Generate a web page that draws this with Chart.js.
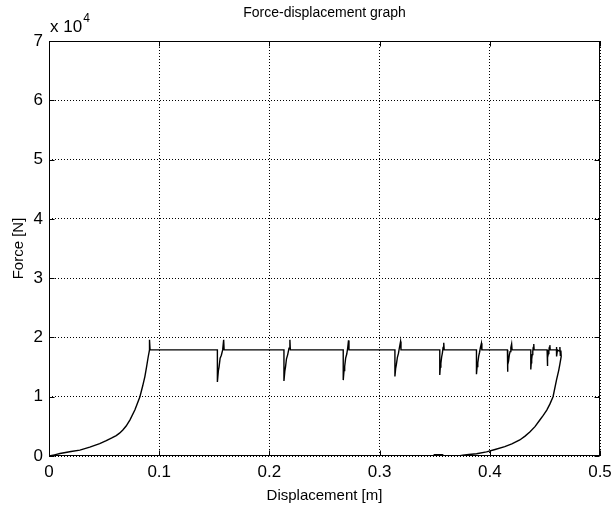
<!DOCTYPE html>
<html>
<head>
<meta charset="utf-8">
<script src="https://cdn.jsdelivr.net/npm/chart.js@4"></script>
<style>
  html, body { margin: 0; padding: 0; background: #fff; }
  #wrap { width: 613px; height: 506px; }
</style>
</head>
<body>
<div id="wrap"><canvas id="forceChart" width="613" height="506"></canvas></div>
<script>
// Displacement [m] and force [N] along the recorded path
// loading branch up to the first yield
const loadX = [0, 0.005, 0.010, 0.020, 0.028, 0.037, 0.046, 0.052, 0.057, 0.061, 0.064, 0.067, 0.070, 0.0735, 0.078, 0.0825, 0.085, 0.087, 0.0885, 0.090, 0.0912, 0.0912, 0.0917];
const loadF = [0, 200, 420, 750, 1000, 1500, 2100, 2600, 3050, 3450, 3850, 4400, 5050, 6100, 7800, 10000, 11800, 13400, 15000, 16700, 17900, 19600, 17900];

// plateau at ~1.79e4 N with the load drops
const plateauX = [
  0.1528, 0.1528, 0.1537, 0.1543, 0.1553, 0.1564, 0.1576, 0.1585, 0.1589,
  0.2132, 0.2132, 0.2140, 0.2146, 0.2155, 0.2166, 0.2178, 0.2186, 0.2190,
  0.2670, 0.2670, 0.2677, 0.2683, 0.2692, 0.2702, 0.2711, 0.2718, 0.2722,
  0.3139, 0.3139, 0.3146, 0.3152, 0.3161, 0.3171, 0.3180, 0.3190, 0.3194,
  0.3546, 0.3546, 0.3551, 0.3556, 0.3563, 0.3570, 0.3576, 0.3582, 0.3586,
  0.3879, 0.3879, 0.3885, 0.3891, 0.3899, 0.3907, 0.3915, 0.3924, 0.3928,
  0.4160, 0.4160, 0.4165, 0.4170, 0.4177, 0.4184, 0.4191, 0.4198, 0.4202,
  0.4372, 0.4372, 0.4376, 0.4380, 0.4385, 0.4390, 0.4394, 0.4399, 0.4402,
  0.4520, 0.4520, 0.4524, 0.4528, 0.4532, 0.4536, 0.4540, 0.4545, 0.4548,
  0.4605, 0.4605, 0.4607, 0.4614, 0.4630, 0.4636, 0.4640, 0.4645, 0.4648
];
const plateauF = [
  17900, 12500, 14400, 15000, 16500, 17000, 17900, 19600, 17900,
  17900, 12650, 14300, 15000, 16400, 17100, 18200, 19600, 17900,
  17900, 12800, 14400, 15100, 16500, 17200, 18300, 19500, 17900,
  17900, 13400, 14800, 15400, 16600, 17300, 18300, 19300, 17900,
  17900, 13650, 15000, 15600, 16700, 17400, 18300, 19100, 17900,
  17900, 13800, 15100, 15700, 16800, 17500, 18300, 19000, 17900,
  17900, 14200, 15400, 16000, 17000, 17600, 18300, 18900, 17900,
  17900, 14600, 15700, 16300, 17100, 17700, 18300, 18900, 17900,
  17900, 15200, 16100, 16600, 17300, 17800, 18300, 18700, 17900,
  17900, 18400, 16800, 17900, 17700, 18400, 17000, 17800, 16800
];

// unloading branch back towards zero
const unloadX = [0.4636, 0.4626, 0.4605, 0.4574, 0.4545, 0.4517, 0.4485, 0.4454, 0.4410, 0.4363, 0.4320, 0.4272, 0.4200, 0.4136, 0.4040, 0.3970, 0.3880, 0.3810, 0.3755, 0.3730, 0.3580, 0.3570, 0.3490];
const unloadF = [15500, 14500, 12800, 10000, 8750, 7750, 6850, 6070, 4950, 4050, 3350, 2700, 2050, 1570, 1050, 700, 380, 250, 120, 60, 60, 220, 220];

const xTicks = [0, 0.1, 0.2, 0.3, 0.4, 0.5];
const yTicks = [0, 1, 2, 3, 4, 5, 6, 7];   // in units of 1e4 N
const yScaleExp = 4;

const pathX = loadX.concat(plateauX, unloadX);
const pathF = loadF.concat(plateauF, unloadF);
const points = pathX.map((x, i) => ({ x: x, y: pathF[i] }));

const FONT = "'Liberation Sans', Arial, Helvetica, sans-serif";

// title, exponent label, box and inward ticks like a MATLAB axes
const matlabAxes = {
  id: 'matlabAxes',
  afterDraw(chart) {
    const { ctx, chartArea: a, scales } = chart;
    ctx.save();
    ctx.fillStyle = '#000';
    ctx.strokeStyle = '#000';
    ctx.lineWidth = 1;

    // box
    const L = Math.round(a.left) + 0.5, R = Math.round(a.right) - 0.5;
    const T = Math.round(a.top) + 0.5, B = Math.round(a.bottom) - 0.5;
    ctx.strokeRect(L, T, R - L, B - T);

    // tick marks pointing inside
    const tl = 5;
    ctx.beginPath();
    xTicks.forEach(v => {
      const px = Math.round(scales.x.getPixelForValue(v)) + 0.5;
      ctx.moveTo(px, B); ctx.lineTo(px, B - tl);
      ctx.moveTo(px, T); ctx.lineTo(px, T + tl);
    });
    yTicks.forEach(v => {
      const py = Math.round(scales.y.getPixelForValue(v * Math.pow(10, yScaleExp))) + 0.5;
      ctx.moveTo(L, py); ctx.lineTo(L + tl, py);
      ctx.moveTo(R, py); ctx.lineTo(R - tl, py);
    });
    ctx.stroke();

    // title
    ctx.textAlign = 'center';
    ctx.textBaseline = 'middle';
    ctx.font = '14px ' + FONT;
    ctx.fillText('Force-displacement graph', (a.left + a.right) / 2, 13);

    // x 10^4 above the y axis
    ctx.textAlign = 'left';
    ctx.textBaseline = 'alphabetic';
    ctx.font = '17px ' + FONT;
    const base = 'x 10';
    ctx.fillText(base, a.left + 1, 32);
    const w = ctx.measureText(base).width;
    ctx.font = '12px ' + FONT;
    ctx.fillText(String(yScaleExp), a.left + 1 + w + 1, 22);
    ctx.restore();
  }
};

new Chart(document.getElementById('forceChart'), {
  type: 'scatter',
  data: {
    datasets: [{
      data: points,
      showLine: true,
      borderColor: '#000',
      borderWidth: 1.4,
      pointRadius: 0,
      tension: 0,
      fill: false
    }]
  },
  options: {
    responsive: false,
    animation: false,
    events: [],
    layout: { padding: { top: 41, right: 13, bottom: 0, left: 0 } },
    plugins: { legend: { display: false }, tooltip: { enabled: false }, title: { display: false } },
    scales: {
      x: {
        type: 'linear',
        min: 0, max: 0.5,
        afterBuildTicks: s => { s.ticks = xTicks.map(v => ({ value: v })); },
        afterFit: s => { s.height = 50; s.paddingLeft = 0; s.paddingRight = 0; },
        ticks: {
          color: '#000',
          padding: 6,
          maxRotation: 0,
          font: { family: FONT, size: 17 },
          callback: v => String(Number(v.toFixed(1)))
        },
        grid: { color: '#000', lineWidth: 1, drawTicks: false },
        border: { display: false, dash: [1, 2] },
        title: {
          display: true,
          text: 'Displacement [m]',
          color: '#000',
          font: { family: FONT, size: 15 },
          padding: { top: 0, bottom: 1 }
        }
      },
      y: {
        type: 'linear',
        min: 0, max: 70000,
        afterBuildTicks: s => { s.ticks = yTicks.map(v => ({ value: v * Math.pow(10, yScaleExp) })); },
        afterFit: s => { s.width = 49; s.paddingTop = 0; s.paddingBottom = 0; },
        ticks: {
          color: '#000',
          padding: 6,
          font: { family: FONT, size: 17 },
          callback: v => String(Math.round(v / Math.pow(10, yScaleExp)))
        },
        grid: { color: '#000', lineWidth: 1, drawTicks: false },
        border: { display: false, dash: [1, 2] },
        title: {
          display: true,
          text: 'Force [N]',
          color: '#000',
          font: { family: FONT, size: 15 },
          padding: { top: 10, bottom: 0 }
        }
      }
    }
  },
  plugins: [matlabAxes]
});
</script>
</body>
</html>
